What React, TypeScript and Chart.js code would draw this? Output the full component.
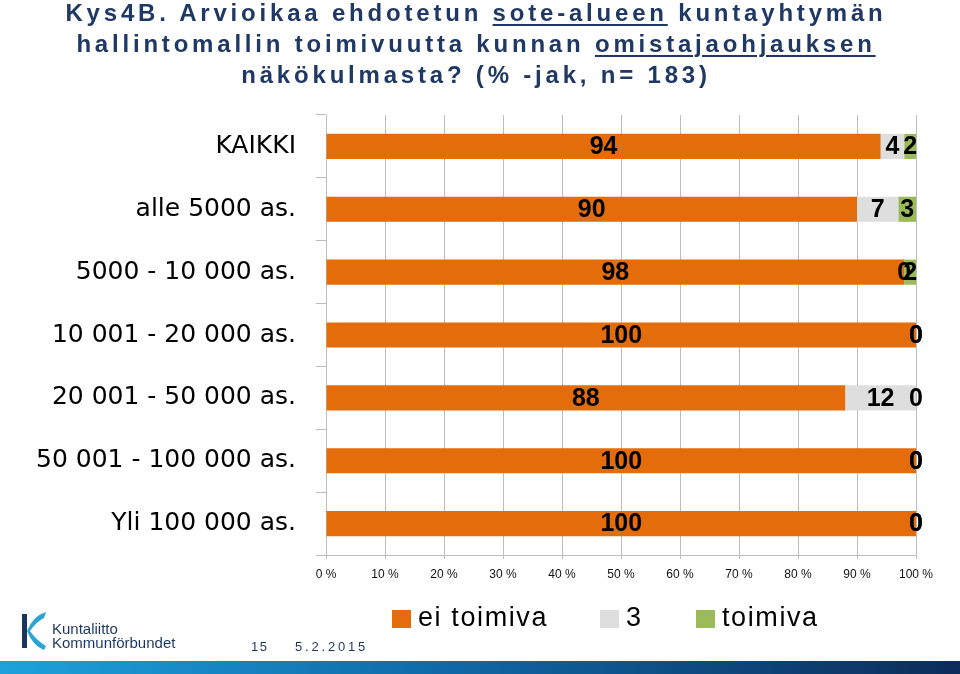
import React, { useEffect, useRef } from "react";
import { Chart, registerables } from "chart.js";

Chart.register(...registerables);

const categories = [
  "KAIKKI",
  "alle 5000 as.",
  "5000 - 10 000 as.",
  "10 001 - 20 000 as.",
  "20 001 - 50 000 as.",
  "50 001 - 100 000 as.",
  "Yli 100 000 as.",
];
const seriesNames = ["ei toimiva", "3", "toimiva"];
const eiToimiva = [94, 90, 98, 100, 88, 100, 100];
const kolme = [4, 7, 0, 0, 12, 0, 0];
const toimiva = [2, 3, 2, 0, 0, 0, 0];
const seriesColors = ["#E46C0A", "#DEDEDE", "#9BBB59"];
const xTickSuffix = " %";

const titleLines = [
  ["Kys4B. Arvioikaa ehdotetun ", "sote-alueen", " kuntayhtymän"],
  ["hallintomallin toimivuutta kunnan ", "omistajaohjauksen", ""],
  ["näkökulmasta? (% -jak, n= 183)", "", ""],
];

const valueLabels = {
  id: "valueLabels",
  afterDatasetsDraw(chart: any) {
    const ctx = chart.ctx;
    ctx.save();
    ctx.font = 'bold 25px "Liberation Sans", Arial, sans-serif';
    ctx.fillStyle = "#000";
    ctx.textAlign = "center";
    ctx.textBaseline = "middle";
    chart.data.datasets.forEach((ds: any, di: number) => {
      const meta = chart.getDatasetMeta(di);
      meta.data.forEach((bar: any, i: number) => {
        const v = ds.data[i];
        const p = bar.getProps(["x", "y", "base"], true);
        ctx.fillText(String(v), (p.x + p.base) / 2, p.y + 1);
      });
    });
    ctx.restore();
  },
};

function BarChart() {
  const ref = useRef<HTMLCanvasElement | null>(null);
  useEffect(() => {
    if (!ref.current) return;
    const values = [eiToimiva, kolme, toimiva];
    const chart = new Chart(ref.current, {
      type: "bar",
      data: {
        labels: categories,
        datasets: values.map((d, i) => ({
          label: seriesNames[i],
          data: d,
          backgroundColor: seriesColors[i],
          borderWidth: 0,
          barPercentage: 0.4,
          categoryPercentage: 1,
        })),
      },
      options: {
        indexAxis: "y",
        responsive: false,
        animation: false,
        layout: { padding: { top: 115, right: 44, bottom: 89, left: 0 } },
        plugins: {
          legend: { display: false },
          tooltip: { enabled: false },
          title: { display: false },
        },
        scales: {
          x: {
            stacked: true,
            min: 0,
            max: 100,
            ticks: {
              stepSize: 10,
              callback: (v: any) => v + xTickSuffix,
              font: { family: '"Liberation Sans", Arial, sans-serif', size: 12 },
              color: "#111",
              padding: 8,
            },
            grid: { color: "#BDBDBD", lineWidth: 1, tickLength: 4 },
            border: { color: "#BDBDBD" },
            afterFit: (s: any) => {
              s.paddingLeft = 0;
              s.paddingRight = 0;
              s.height = 30;
            },
          },
          y: {
            stacked: true,
            ticks: {
              font: { family: '"DejaVu Sans", sans-serif', size: 25 },
              color: "#000",
              padding: 20,
            },
            grid: { drawOnChartArea: false, tickLength: 10, color: "#BDBDBD" },
            border: { color: "#BDBDBD" },
            afterFit: (s: any) => {
              s.width = 326;
              s.paddingTop = 0;
              s.paddingBottom = 0;
            },
          },
        },
      },
      plugins: [valueLabels],
    } as any);
    return () => chart.destroy();
  }, []);
  return (
    <canvas
      ref={ref}
      width={960}
      height={674}
      style={{ position: "absolute", left: 0, top: 0, width: 960, height: 674 }}
    />
  );
}

export default function App() {
  const navy = "#1F3864";
  return (
    <div
      style={{
        position: "absolute",
        left: 0,
        top: 0,
        width: 960,
        height: 674,
        overflow: "hidden",
        background: "#fff",
      }}
    >
      <BarChart />
      <div
        style={{
          position: "absolute",
          left: 0,
          top: -3,
          width: 952,
          textAlign: "center",
          fontFamily: '"Liberation Sans", Arial, sans-serif',
          fontWeight: "bold",
          fontSize: 24,
          letterSpacing: "3.8px",
          lineHeight: "31px",
          color: navy,
        }}
      >
        {titleLines.map((l, i) => (
          <div key={i}>
            {l[0]}
            {l[1] ? (
              <span style={{ textDecoration: "underline", textDecorationThickness: "2px", textUnderlineOffset: "3px" }}>
                {l[1]}
              </span>
            ) : null}
            {l[2]}
          </div>
        ))}
      </div>
      {seriesNames.map((n, i) => {
        const boxLeft = [392, 600, 696][i];
        return (
          <React.Fragment key={n}>
            <div
              style={{
                position: "absolute",
                left: boxLeft,
                top: 610,
                width: 19,
                height: 18,
                background: seriesColors[i],
              }}
            />
            <div
              style={{
                position: "absolute",
                left: boxLeft + 26,
                top: 604,
                fontFamily: '"Liberation Sans", Arial, sans-serif',
                fontSize: 27,
                letterSpacing: "1.6px",
                lineHeight: "27px",
                color: "#000",
                whiteSpace: "nowrap",
              }}
            >
              {n}
            </div>
          </React.Fragment>
        );
      })}
      <svg
        width={34}
        height={44}
        style={{ position: "absolute", left: 18, top: 608 }}
        viewBox="0 0 34 44"
      >
        <rect x={4} y={6} width={5} height={34} fill="#1B365D" />
        <path
          d="M9 23 Q15 8 28 4 L26 10 Q18 14 12 23 Q18 32 28 38 L26 42 Q15 38 9 23 Z"
          fill="#2AA3D8"
        />
      </svg>
      <div
        style={{
          position: "absolute",
          left: 52,
          top: 622,
          fontFamily: '"Liberation Sans", Arial, sans-serif',
          fontSize: 15,
          lineHeight: "14px",
          color: "#1B365D",
        }}
      >
        <div>Kuntaliitto</div>
        <div>Kommunförbundet</div>
      </div>
      <div
        style={{
          position: "absolute",
          left: 251,
          top: 639,
          fontFamily: '"Liberation Sans", Arial, sans-serif',
          fontSize: 13,
          letterSpacing: "1.5px",
          lineHeight: "15px",
          color: "#1B365D",
        }}
      >
        15
      </div>
      <div
        style={{
          position: "absolute",
          left: 295,
          top: 639,
          fontFamily: '"Liberation Sans", Arial, sans-serif',
          fontSize: 13,
          letterSpacing: "2.8px",
          lineHeight: "15px",
          color: "#1B365D",
        }}
      >
        5.2.2015
      </div>
      <div
        style={{
          position: "absolute",
          left: 0,
          top: 661,
          width: 960,
          height: 13,
          background: "linear-gradient(to right, #1EA2DC 0%, #0F6AA8 45%, #0C2C58 100%)",
        }}
      />
    </div>
  );
}
